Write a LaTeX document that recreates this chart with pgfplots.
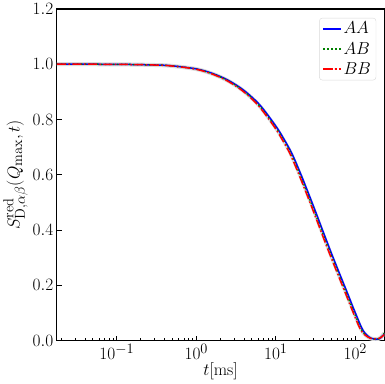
\documentclass[border=0pt]{standalone}
\usepackage{pgfplots}
\pgfplotsset{compat=1.18}
\definecolor{mplgreen}{rgb}{0,0.5,0}

\pgfplotstableread{
t v
0.0176 1.000
0.1 0.9995
0.316 0.997
0.501 0.994
1.0 0.983
1.585 0.967
2.512 0.942
3.981 0.905
6.31 0.852
10.0 0.776
12.59 0.730
15.85 0.678
19.95 0.612
25.12 0.540
31.62 0.466
39.81 0.390
50.12 0.315
63.1 0.243
79.4 0.172
100.0 0.100
125.9 0.035
158.5 0.008
199.5 0.006
232 0.025
}\dataAA

\pgfplotstableread{
t v
0.0176 1.000
0.1 0.9995
0.307 0.997
0.486 0.994
0.97 0.983
1.537 0.967
2.437 0.942
3.862 0.905
6.12 0.852
9.70 0.776
12.21 0.730
15.37 0.678
19.35 0.612
24.37 0.540
30.67 0.466
38.62 0.390
48.62 0.315
61.2 0.243
77.0 0.172
97.0 0.100
122.1 0.035
155 0.008
199.5 0.007
232 0.027
}\dataAB

\pgfplotstableread{
t v
0.0176 1.000
0.1 0.9995
0.298 0.997
0.473 0.994
0.944 0.983
1.496 0.967
2.371 0.942
3.758 0.905
5.96 0.852
9.44 0.776
11.88 0.730
14.96 0.678
18.83 0.612
23.71 0.540
29.85 0.466
37.58 0.390
47.31 0.315
59.6 0.243
75.0 0.172
94.4 0.100
118.8 0.035
152 0.009
199.5 0.008
232 0.022
}\dataBB

\begin{document}
\begin{tikzpicture}
\begin{axis}[
  scale only axis, width=327pt, height=331pt,
  xmode=log, xmin=0.0176, xmax=232, ymin=0, ymax=1.2,
  xtick={0.1,1,10,100},
  minor xtick={0.02,0.03,0.04,0.05,0.06,0.07,0.08,0.09,
    0.2,0.3,0.4,0.5,0.6,0.7,0.8,0.9,2,3,4,5,6,7,8,9,
    20,30,40,50,60,70,80,90,200},
  ytick={0,0.2,0.4,0.6,0.8,1.0,1.2},
  yticklabel style={/pgf/number format/fixed,/pgf/number format/fixed zerofill,/pgf/number format/precision=1},
  tick pos=left, tick align=inside,
  major tick length=5pt, minor tick length=3pt,
  every tick/.style={black, line width=0.8pt},
  axis line style={line width=1.2pt},
  font=\fontsize{19}{22}\selectfont,
  xlabel={$t[\mathrm{ms}]$},
  ylabel={$S^{\mathrm{red}}_{\mathrm{D},\alpha\beta}(Q_{\max},t)$},
  xlabel style={yshift=4pt},
  ylabel style={yshift=-2pt},
  legend style={at={(0.975,0.973)}, anchor=north east, draw=black!15,
    fill=white, row sep=3pt, rounded corners=3pt},
  legend cell align=left,
  legend image post style={line width=2pt},
]
\addplot[gray!30, line width=4pt, forget plot, smooth] table[x=t,y=v] {\dataAB};
\addplot[color=blue, line width=1.5pt, smooth] table[x=t,y=v] {\dataAA};
\addlegendentry{$AA$}
\addplot[color=mplgreen, line width=1.5pt, dash pattern=on 1.5pt off 2.5pt, smooth] table[x=t,y=v] {\dataAB};
\addlegendentry{$AB$}
\addplot[color=red, line width=1.5pt, dash pattern=on 9pt off 2.5pt on 1.5pt off 2.5pt, smooth] table[x=t,y=v] {\dataBB};
\addlegendentry{$BB$}
\end{axis}
\end{tikzpicture}
\end{document}
